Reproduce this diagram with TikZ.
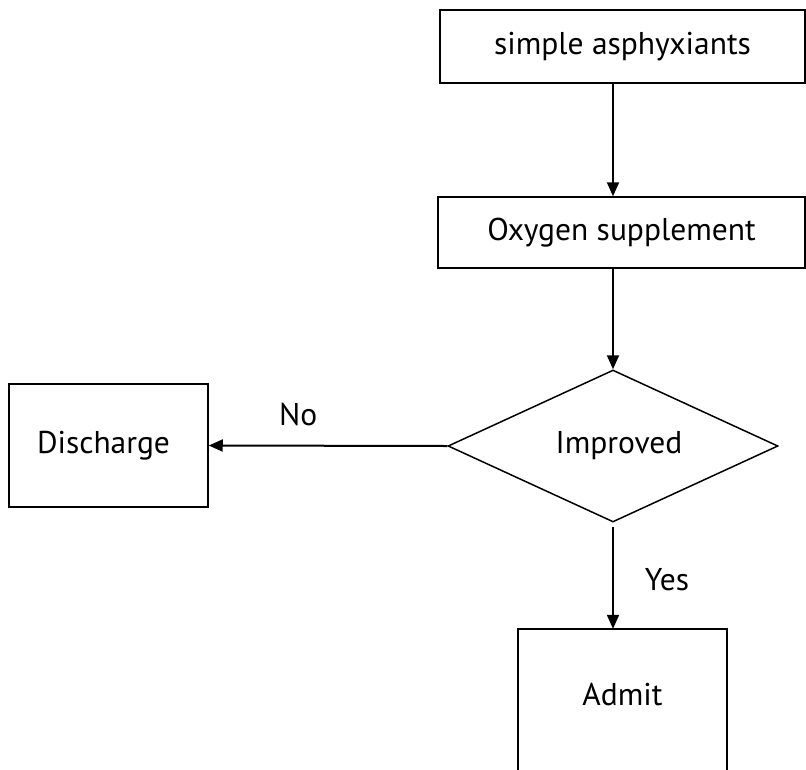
\documentclass[tikz,border=0pt]{standalone}
\usepackage{fontspec}
\setmainfont{PT Sans}
\usetikzlibrary{arrows.meta,shapes.geometric}
\tikzset{
  txt/.style={font=\fontsize{31.5}{36}\selectfont},
  box/.style={draw, line width=1.5pt, inner sep=0pt, txt},
  dia/.style={draw, diamond, line width=1.5pt, inner sep=0pt, aspect=2.17, txt},
  arr/.style={line width=2pt, -{Triangle[length=14pt,width=12pt]}},
  lab/.style={txt, inner sep=0pt}
}
\begin{document}
\begin{tikzpicture}[x=1pt,y=-1pt]
\useasboundingbox (0,0) rectangle (806,769);
\clip (0,0) rectangle (806,769);
\node[box, minimum width=365pt, minimum height=73pt] (top) at (622.5,46.5) {simple asphyxiants};
\node[box, minimum width=367pt, minimum height=71pt] (oxy) at (621.5,232.5) {Oxygen supplement};
\node[dia, minimum width=330pt, minimum height=152pt] (imp) at (613,446) {\hspace*{12pt}Improved};
\node[box, minimum width=199pt, minimum height=123pt] (dis) at (108.5,445.5) {Discharge\hspace*{10pt}};
\node[lab, minimum width=209pt, minimum height=130pt] (adm) at (622.5,694) {Admit};
\draw[line width=1.5pt] ([yshift=-40pt]adm.south west) -- (adm.north west) -- (adm.north east) -- ([yshift=-40pt]adm.south east);
\draw[arr] (top.south -| imp.north) -- (oxy.north -| imp.north);
\draw[arr] (oxy.south -| imp.north) -- (imp.north);
\draw[arr] (imp.west) -- (dis.east) node[lab, pos=0.625, yshift=31pt] {No};
\draw[arr] ([yshift=-4pt]imp.south) -- (adm.north -| imp.south) node[lab, pos=0.52, xshift=54pt] {Yes};
\end{tikzpicture}
\end{document}
